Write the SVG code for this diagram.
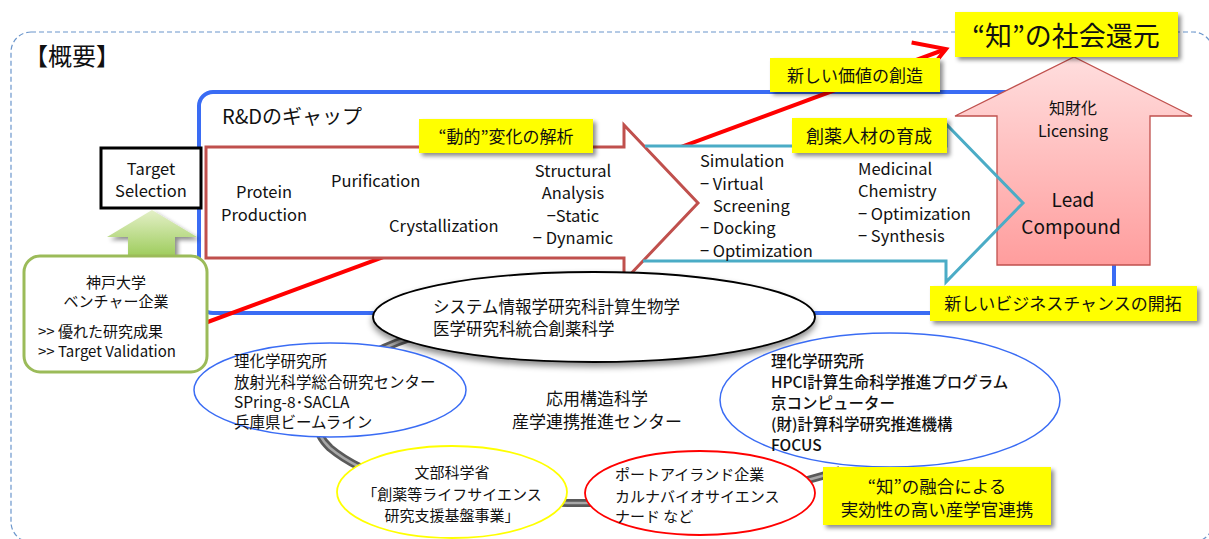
<svg xmlns="http://www.w3.org/2000/svg" width="1209" height="539" viewBox="0 0 1209 539">
<defs>
<style>
text{font-family:"Noto Sans CJK JP","Noto Sans",sans-serif;fill:#111;}
.en{font-size:16.5px;}
.lab{fill:#ffff00;filter:url(#sh);}
.lt{font-size:17px;text-anchor:middle;}
.ell{fill:#fff;}
.e15{font-size:15px;}
.mid{text-anchor:middle;}
</style>
<filter id="sh" x="-10%" y="-20%" width="130%" height="160%"><feDropShadow dx="3" dy="3" stdDeviation="2" flood-color="#000" flood-opacity="0.45"/></filter>
<filter id="sh2" x="-10%" y="-20%" width="130%" height="160%"><feDropShadow dx="0" dy="4" stdDeviation="3" flood-color="#000" flood-opacity="0.45"/></filter>
<linearGradient id="pink" x1="0" y1="0" x2="0" y2="1"><stop offset="0" stop-color="#ffdede"/><stop offset="1" stop-color="#ff9d9d"/></linearGradient>
<linearGradient id="green" x1="0" y1="0" x2="0" y2="1"><stop offset="0" stop-color="#e4f0c8"/><stop offset="1" stop-color="#92c64a"/></linearGradient>
<marker id="chev" markerUnits="userSpaceOnUse" markerWidth="44" markerHeight="44" refX="36" refY="22" orient="auto" viewBox="0 0 44 44"><path d="M6,4 L36,22 L6,40" fill="none" stroke="#ff0000" stroke-width="4"/></marker>
</defs>
<rect x="11" y="32" width="1202" height="510" rx="20" fill="none" stroke="#6b96cc" stroke-width="1.2" stroke-dasharray="5 3"/>
<text x="24" y="65" style="font-size:24px">【概要】</text>
<g id="rd-gap">
<rect x="199" y="92" width="915" height="221" rx="14" fill="none" stroke="#3a6cf4" stroke-width="4"/>
<text x="222" y="124" style="font-size:20px">R&amp;Dのギャップ</text>
</g>
<g id="connectors">
<line x1="205" y1="323" x2="946" y2="49" stroke="#ff0000" stroke-width="4" marker-end="url(#chev)"/>
</g>
<g id="sim-arrow-fill">
<polygon points="630,147 946,147 946,124 1023,203 946,282 946,261 630,261" fill="#fff"/>
</g>
<g id="exp-arrow">
<polygon points="206,147 624,147 624,125 698,203 624,281 624,258 206,258" fill="#fff" stroke="#c0504d" stroke-width="3"/>
<text class="en" x="264" y="198" text-anchor="middle">Protein</text>
<text class="en" x="264" y="221" text-anchor="middle">Production</text>
<text class="en" x="331" y="187">Purification</text>
<text class="en" x="389" y="232">Crystallization</text>
<text class="en" x="573" y="177" text-anchor="middle">Structural</text>
<text class="en" x="573" y="199" text-anchor="middle">Analysis</text>
<text class="en" x="573" y="222" text-anchor="middle">−Static</text>
<text class="en" x="573" y="244" text-anchor="middle">− Dynamic</text>
</g>
<g id="lead">
<polygon points="997,265 997,116 955,116 1074,57 1192,116 1150,116 1150,265" fill="url(#pink)" stroke="#c0504d" stroke-width="1.3"/>
<text x="1073" y="114" class="mid" style="font-size:16px">知財化</text>
<text x="1073" y="137" class="mid" style="font-size:16px">Licensing</text>
<text x="1073" y="207" class="mid" style="font-size:19px">Lead</text>
<text x="1071" y="234" class="mid" style="font-size:19px">Compound</text>
</g>
<g id="sim-arrow">
<path d="M645,146 L946,146 L946,124 L1023,203 L946,282 L946,261 L643,261" fill="none" stroke="#4bacc6" stroke-width="3"/>
<text class="en" x="700" y="167">Simulation</text>
<text class="en" x="700" y="190">− Virtual</text>
<text class="en" x="713" y="212">Screening</text>
<text class="en" x="700" y="234">− Docking</text>
<text class="en" x="700" y="257">− Optimization</text>
<text class="en" x="858" y="175">Medicinal</text>
<text class="en" x="858" y="197">Chemistry</text>
<text class="en" x="858" y="220">− Optimization</text>
<text class="en" x="858" y="242">− Synthesis</text>
</g>
<g id="ring">
<path d="M430,332 C340,355 290,410 330,448 C380,490 480,503 590,503 C690,503 780,492 840,470" fill="none" stroke="#5a5a5a" stroke-width="8"/>
<path d="M430,332 C340,355 290,410 330,448 C380,490 480,503 590,503 C690,503 780,492 840,470" fill="none" stroke="#a8a8a8" stroke-width="2.5"/>
</g>
<g id="kobe-grad">
<ellipse cx="594" cy="317" rx="221" ry="45" class="ell" stroke="#000" stroke-width="1.8" filter="url(#sh2)"/>
<text x="433" y="313" style="font-size:16.5px">システム情報学研究科計算生物学</text>
<text x="433" y="335" style="font-size:16.5px">医学研究科統合創薬科学</text>
</g>
<g id="riken-spring8">
<ellipse cx="330" cy="390" rx="136" ry="47" class="ell" stroke="#3a6cf4" stroke-width="1.5"/>
<text x="234" y="367" style="font-size:15.5px">理化学研究所</text>
<text x="234" y="388" style="font-size:15.5px">放射光科学総合研究センター</text>
<text x="234" y="408" style="font-size:15.5px">SPring-8･SACLA</text>
<text x="234" y="428" style="font-size:15.5px">兵庫県ビームライン</text>
</g>
<g id="mext">
<ellipse cx="452" cy="492" rx="115" ry="46" class="ell" stroke="#ffff00" stroke-width="1.8"/>
<text x="452" y="478" class="mid e15">文部科学省</text>
<text x="452" y="500" class="mid e15">「創薬等ライフサイエンス</text>
<text x="452" y="521" class="mid e15">研究支援基盤事業」</text>
</g>
<g id="companies">
<ellipse cx="700" cy="493" rx="115" ry="42" class="ell" stroke="#ff0000" stroke-width="1.8"/>
<text x="615" y="480" class="e15">ポートアイランド企業</text>
<text x="615" y="502" class="e15">カルナバイオサイエンス</text>
<text x="615" y="522" class="e15">ナード など</text>
</g>
<g id="riken-hpci">
<ellipse cx="890" cy="400" rx="170" ry="67" class="ell" stroke="#3a6cf4" stroke-width="1.5"/>
<text x="771" y="367" style="font-size:15.5px;font-weight:500">理化学研究所</text>
<text x="771" y="388" style="font-size:15.5px;font-weight:500">HPCI計算生命科学推進プログラム</text>
<text x="771" y="409" style="font-size:15.5px;font-weight:500">京コンピューター</text>
<text x="771" y="430" style="font-size:15.5px;font-weight:500">(財)計算科学研究推進機構</text>
<text x="771" y="451" style="font-size:15.5px;font-weight:500">FOCUS</text>
</g>
<g id="center">
<text x="597" y="405" class="mid" style="font-size:17px">応用構造科学</text>
<text x="597" y="428" class="mid" style="font-size:17px">産学連携推進センター</text>
</g>
<g id="target">
<rect x="101" y="148" width="100" height="60" fill="#fff" stroke="#000" stroke-width="3"/>
<text x="151" y="175" class="mid" style="font-size:16.5px">Target</text>
<text x="151" y="197" class="mid" style="font-size:16.5px">Selection</text>
</g>
<g id="up-arrow">
<polygon points="128,264 128,237 107,237 152,210 197,237 175,237 175,264" fill="url(#green)" filter="url(#sh)"/>
</g>
<g id="kobe-univ">
<rect x="24" y="256" width="183" height="116" rx="16" fill="#fff" stroke="#9bbb59" stroke-width="3"/>
<text x="116" y="288" class="mid e15">神戸大学</text>
<text x="116" y="307" class="mid e15">ベンチャー企業</text>
<text x="38" y="337" class="e15">&gt;&gt; 優れた研究成果</text>
<text x="38" y="357" class="e15">&gt;&gt; Target Validation</text>
</g>
<g id="labels">
<rect x="955" y="12" width="223" height="45" class="lab"/>
<text x="1066" y="46" class="mid" style="font-size:27px">“知”の社会還元</text>
<rect x="770" y="58" width="170" height="34" class="lab"/>
<text x="855" y="82" class="lt">新しい価値の創造</text>
<rect x="419" y="119" width="174" height="34" class="lab"/>
<text x="506" y="143" class="lt">“動的”変化の解析</text>
<rect x="792" y="118" width="155" height="35" class="lab"/>
<text x="869" y="143" class="lt" style="font-size:18px">創薬人材の育成</text>
<rect x="930" y="286" width="267" height="35" class="lab"/>
<text x="1063" y="310" class="lt">新しいビジネスチャンスの開拓</text>
<rect x="823" y="467" width="228" height="58" class="lab"/>
<text x="937" y="493" class="lt" style="font-size:17.5px">“知”の融合による</text>
<text x="937" y="516" class="lt" style="font-size:17.5px">実効性の高い産学官連携</text>
</g>
</svg>
